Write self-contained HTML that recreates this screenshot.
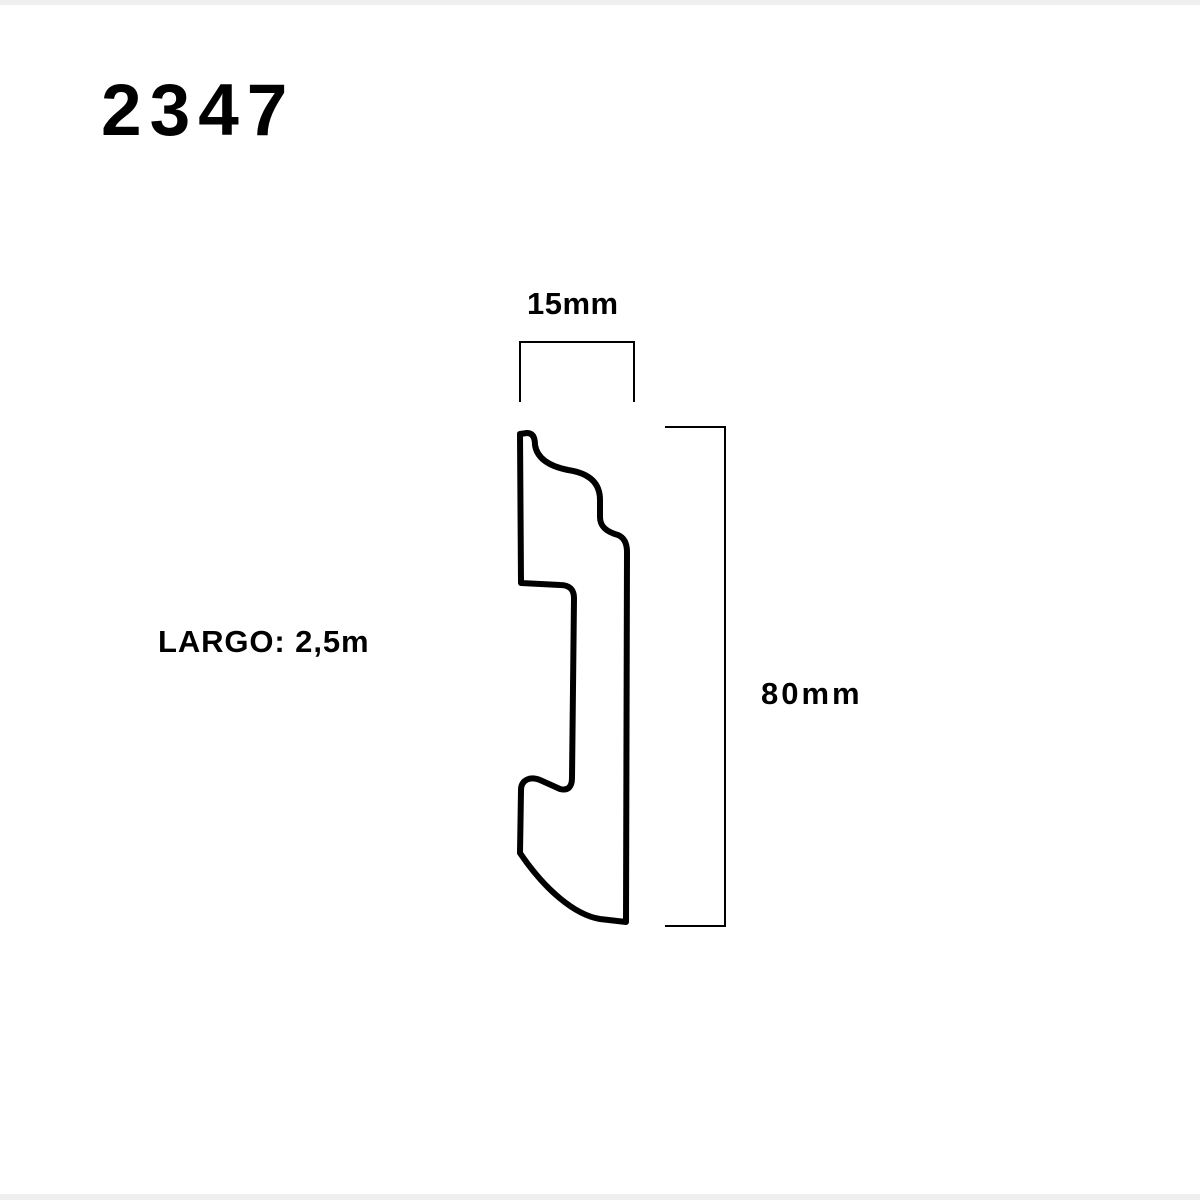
<!DOCTYPE html>
<html><head><meta charset="utf-8"><style>
html,body{margin:0;padding:0;background:#fff;}
body{width:1200px;height:1200px;position:relative;overflow:hidden;font-family:"Liberation Sans",sans-serif;font-weight:bold;color:#000;}
.t{position:absolute;white-space:nowrap;line-height:1;}
</style></head><body>
<div style="position:absolute;left:0;top:0;width:1200px;height:5px;background:#efefef"></div>
<div style="position:absolute;left:0;top:1194px;width:1200px;height:6px;background:#efefef"></div>
<div class="t" style="left:101px;top:74px;font-size:73px;letter-spacing:8px">2347</div>
<div class="t" style="left:527px;top:288px;font-size:31px;letter-spacing:0.5px">15mm</div>
<div class="t" style="left:158px;top:626px;font-size:31px;letter-spacing:0.9px">LARGO: 2,5m</div>
<div class="t" style="left:761px;top:678px;font-size:31px;letter-spacing:3px">80mm</div>
<svg width="1200" height="1200" style="position:absolute;left:0;top:0">
<g fill="none" stroke="#000" stroke-width="2">
<path d="M520,402 V342 H634 V402"/>
<path d="M665,427 H725 V926 H665"/>
</g>
<path fill="none" stroke="#000" stroke-width="6" stroke-linejoin="round" d="
M520,434 L527,433 C533,433 535,438 535,445 C537,458 548,466 568,470
C588,473 600,482 600,500 L600,517 C600,527 607,532 618,535
C625,538 627,545 627,552 L626,922 L600,919 C575,915 545,890 520,853
L521,790 C521,780 530,776 540,780 L560,789 C568,791 572,787 572,778
L574,598 C574,590 570,585 560,585 L521,583 Z"/>
</svg>
</body></html>
